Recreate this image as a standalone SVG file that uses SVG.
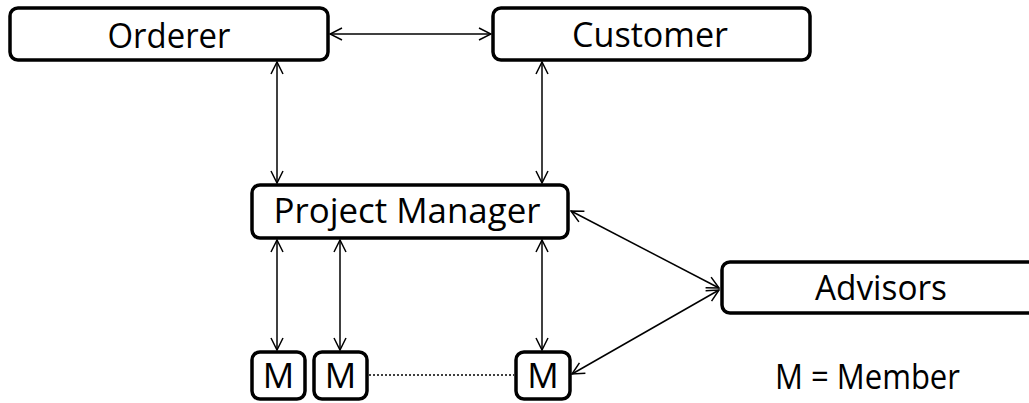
<svg xmlns="http://www.w3.org/2000/svg" width="1029" height="403" viewBox="0 0 1029 403">
  <style>
    .box { fill: #ffffff; stroke: #000000; stroke-width: 3.5; }
    .lbl { font-family: "Open Sans", "Liberation Sans", sans-serif; font-size: 35px; fill: #000000; text-anchor: middle; }
    .link { fill: none; stroke: #000000; stroke-width: 1.5; marker-start: url(#arr); marker-end: url(#arr); }
    .dots { fill: none; stroke: #000000; stroke-width: 1.5; stroke-dasharray: 2 2; }
  </style>
  <defs>
    <marker id="arr" viewBox="0 0 14 14" refX="13" refY="7" markerWidth="14" markerHeight="14" markerUnits="userSpaceOnUse" orient="auto-start-reverse">
      <path d="M1,1 L13,7 L1,13" fill="none" stroke="#000000" stroke-width="1.5"/>
    </marker>
  </defs>
  <rect width="1029" height="403" fill="#ffffff"/>

  <g id="connectors">
    <line class="link" x1="330" y1="34" x2="491" y2="34"/>
    <line class="link" x1="277" y1="62" x2="277" y2="183"/>
    <line class="link" x1="542" y1="62" x2="542" y2="183"/>
    <line class="link" x1="277" y1="240" x2="277" y2="350"/>
    <line class="link" x1="340" y1="240" x2="340" y2="350"/>
    <line class="link" x1="542" y1="240" x2="542" y2="350"/>
    <line class="link" x1="571" y1="211" x2="719" y2="288"/>
    <line class="link" x1="719" y1="290" x2="572" y2="374"/>
    <line class="dots" x1="369" y1="375" x2="514" y2="375"/>
  </g>

  <g id="orderer">
    <rect class="box" x="10" y="8" width="318" height="52" rx="8"/>
    <text class="lbl" x="169" y="48" textLength="123" lengthAdjust="spacingAndGlyphs">Orderer</text>
  </g>
  <g id="customer">
    <rect class="box" x="493" y="8" width="317" height="52" rx="8"/>
    <text class="lbl" x="650" y="47" textLength="156" lengthAdjust="spacingAndGlyphs">Customer</text>
  </g>
  <g id="project-manager">
    <rect class="box" x="252" y="185" width="316" height="53" rx="8"/>
    <text class="lbl" x="407" y="223" textLength="267" lengthAdjust="spacingAndGlyphs">Project Manager</text>
  </g>
  <g id="advisors">
    <rect class="box" x="722" y="262" width="320" height="51" rx="8"/>
    <text class="lbl" x="881" y="300" textLength="132" lengthAdjust="spacingAndGlyphs">Advisors</text>
  </g>
  <g id="member-1">
    <rect class="box" x="252" y="352" width="53" height="47" rx="8"/>
    <text class="lbl" x="278.5" y="388">M</text>
  </g>
  <g id="member-2">
    <rect class="box" x="314" y="352" width="53" height="47" rx="8"/>
    <text class="lbl" x="340.5" y="388">M</text>
  </g>
  <g id="member-3">
    <rect class="box" x="516" y="352" width="54" height="47" rx="8"/>
    <text class="lbl" x="543" y="388">M</text>
  </g>
  <g id="legend">
    <text class="lbl" x="775" y="389" style="text-anchor: start" textLength="185" lengthAdjust="spacingAndGlyphs">M = Member</text>
  </g>
</svg>
